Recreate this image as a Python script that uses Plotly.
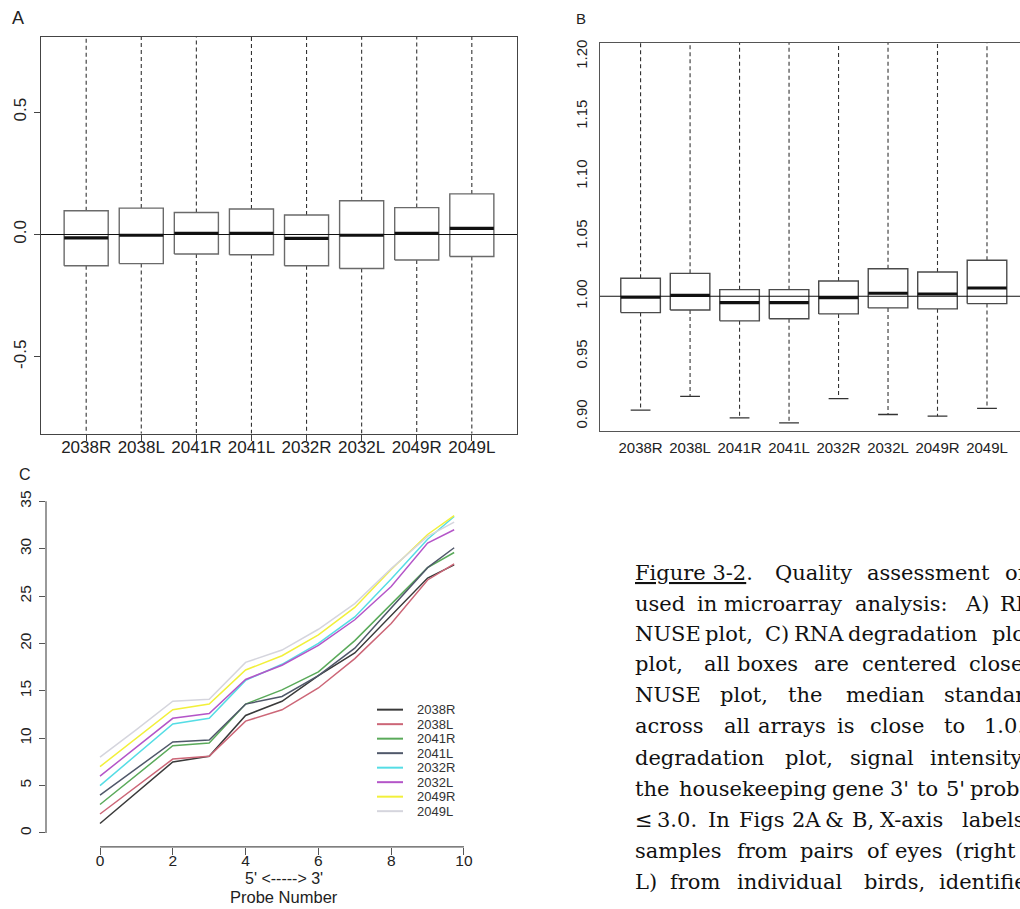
import plotly.graph_objects as go

W, H = 1020, 909

# ---------------- data ----------------
samples = ["2038R", "2038L", "2041R", "2041L", "2032R", "2032L", "2049R", "2049L"]

# Panel A : RLE boxplot statistics
rle_q1 = [-0.128, -0.119, -0.080, -0.083, -0.128, -0.139, -0.104, -0.090]
rle_med = [-0.014, -0.003, 0.005, 0.005, -0.016, -0.003, 0.005, 0.025]
rle_q3 = [0.097, 0.108, 0.090, 0.104, 0.080, 0.138, 0.110, 0.166]
rle_lo = [-1.20, -1.20, -1.20, -1.20, -1.20, -1.20, -1.20, -1.20]
rle_hi = [1.20, 1.20, 1.20, 1.20, 1.20, 1.20, 1.20, 1.20]

# Panel B : NUSE boxplot statistics
nuse_q1 = [0.9864, 0.9886, 0.9795, 0.9812, 0.9853, 0.9903, 0.9895, 0.9939]
nuse_med = [0.9992, 1.0008, 0.9947, 0.9947, 0.9989, 1.0025, 1.0019, 1.0069]
nuse_q3 = [1.0150, 1.0191, 1.0055, 1.0055, 1.0127, 1.0230, 1.0202, 1.0300]
nuse_lo = [0.9050, 0.9166, 0.8986, 0.8945, 0.9147, 0.9014, 0.9000, 0.9066]
nuse_hi = [1.30, 1.30, 1.30, 1.30, 1.30, 1.30, 1.30, 1.30]

# Panel C : RNA degradation (shifted and scaled mean intensity)
probe_x = [0, 1, 2, 3, 4, 5, 6, 7, 8, 9, 9.73]
deg = {
    "2038R": [1.0, 4.3, 7.5, 8.1, 12.4, 13.9, 16.6, 19.0, 23.0, 26.9, 28.3],
    "2038L": [2.0, 4.9, 7.8, 8.1, 11.8, 13.0, 15.3, 18.4, 22.1, 26.7, 28.4],
    "2041R": [3.0, 6.1, 9.2, 9.5, 13.6, 15.1, 17.0, 20.3, 24.2, 28.0, 29.6],
    "2041L": [4.0, 6.8, 9.6, 9.8, 13.6, 14.4, 16.6, 19.5, 23.8, 28.0, 30.1],
    "2032R": [5.0, 8.3, 11.5, 12.1, 16.1, 17.8, 20.0, 22.8, 26.8, 31.0, 33.4],
    "2032L": [6.0, 9.1, 12.1, 12.6, 16.2, 17.7, 19.8, 22.5, 26.0, 30.6, 32.0],
    "2049R": [7.0, 10.0, 13.0, 13.6, 17.2, 18.7, 20.9, 23.8, 27.8, 31.5, 33.5],
    "2049L": [8.0, 10.9, 13.9, 14.1, 18.0, 19.3, 21.5, 24.2, 27.9, 31.3, 32.8],
}
deg_colors = ["#3a3a3a", "#cc6677", "#5aaa5a", "#50586a",
              "#55dde5", "#b455c8", "#f2f03a", "#d5d5dd"]

rle_ticks = [-0.5, 0.0, 0.5]
rle_ticktext = ["-0.5", "0.0", "0.5"]
nuse_ticks = [0.90, 0.95, 1.00, 1.05, 1.10, 1.15, 1.20]
nuse_ticktext = ["0.90", "0.95", "1.00", "1.05", "1.10", "1.15", "1.20"]
deg_xticks = [0, 2, 4, 6, 8, 10]
deg_yticks = [0, 5, 10, 15, 20, 25, 30, 35]

caption = [
    (579, [(633.3, "<u>Figure 3-2</u>."), (772.7, "Quality"), (865.0, "assessment"), (1003.3, "of")]),
    (610, [(633.3, "used"), (695.0, "in"), (721.7, "microarray"), (853.3, "analysis:"),
           (963.3, "A)"), (998.3, "RLE")]),
    (640, [(633.3, "NUSE"), (702.5, "plot,"), (763.3, "C)"), (791.7, "RNA"),
           (846.0, "degradation"), (990.0, "plot")]),
    (671, [(633.3, "plot,"), (701.7, "all"), (735.0, "boxes"), (811.7, "are"),
           (860.0, "centered"), (966.7, "close")]),
    (702, [(633.3, "NUSE"), (718.3, "plot,"), (785.7, "the"), (844.0, "median"),
           (941.7, "standard")]),
    (733, [(633.3, "across"), (722.0, "all"), (756.0, "arrays"), (835.0, "is"),
           (868.3, "close"), (941.7, "to"), (981.7, "1.0.")]),
    (765, [(633.3, "degradation"), (783.3, "plot,"), (848.3, "signal"), (928.3, "intensity")]),
    (796, [(633.3, "the"), (677.0, "housekeeping"), (830.0, "gene"), (888.0, "3'"),
           (915.0, "to"), (944.0, "5'"), (968.0, "probe")]),
    (827, [(633.3, "≤"), (655.0, "3.0."), (706.0, "In"), (736.7, "Figs"), (790.0, "2A"),
           (823.3, "&amp;"), (850.0, "B,"), (878.3, "X-axis"), (960.0, "labels")]),
    (858, [(633.3, "samples"), (735.0, "from"), (798.3, "pairs"), (865.0, "of"),
           (893.3, "eyes"), (953.3, "(right")]),
    (889, [(633.3, "L)"), (668.3, "from"), (735.0, "individual"), (861.7, "birds,"),
           (936.7, "identified")]),
]

# ---------------- helpers ----------------
def px_x(p):
    return p / W


def px_y(p):
    return 1 - p / H


SANS = "Liberation Sans"
SERIF = "DejaVu Serif"


def box_traces(q1, med, q3, lo, hi, xa, ya, boxcol, cap):
    half = 0.4
    rx, ry, mx, my, wx, wy, cx, cy = [], [], [], [], [], [], [], []
    for i in range(len(q1)):
        c = i + 1
        rx += [c - half, c + half, c + half, c - half, c - half, None]
        ry += [q1[i], q1[i], q3[i], q3[i], q1[i], None]
        mx += [c - half, c + half, None]
        my += [med[i], med[i], None]
        wx += [c, c, None, c, c, None]
        wy += [q3[i], hi[i], None, q1[i], lo[i], None]
        cx += [c - 0.2, c + 0.2, None, c - 0.2, c + 0.2, None]
        cy += [lo[i], lo[i], None, hi[i], hi[i], None]
    tr = []
    tr.append(go.Scatter(x=wx, y=wy, mode="lines", xaxis=xa, yaxis=ya, hoverinfo="skip",
                         line=dict(color="#333333", width=1.1, dash="4px,3px")))
    if cap:
        tr.append(go.Scatter(x=cx, y=cy, mode="lines", xaxis=xa, yaxis=ya, hoverinfo="skip",
                             line=dict(color="#333333", width=1.3)))
    tr.append(go.Scatter(x=rx, y=ry, mode="lines", fill="toself", fillcolor="white",
                         xaxis=xa, yaxis=ya, hoverinfo="skip",
                         line=dict(color=boxcol, width=1.4)))
    tr.append(go.Scatter(x=mx, y=my, mode="lines", xaxis=xa, yaxis=ya, hoverinfo="skip",
                         line=dict(color="#111111", width=3.2)))
    return tr


fig = go.Figure()
for t in box_traces(rle_q1, rle_med, rle_q3, rle_lo, rle_hi, "x", "y", "#6a6a6a", False):
    fig.add_trace(t)
for t in box_traces(nuse_q1, nuse_med, nuse_q3, nuse_lo, nuse_hi, "x2", "y2", "#4a4a4a", True):
    fig.add_trace(t)

for name, col in zip(samples, deg_colors):
    fig.add_trace(go.Scatter(x=probe_x, y=deg[name], mode="lines", name=name,
                             xaxis="x3", yaxis="y3", line=dict(color=col, width=1.5)))

# horizontal reference lines (A: 0, B: 1)
fig.add_shape(type="line", xref="x domain", yref="y", x0=0, x1=1, y0=0, y1=0,
              line=dict(color="#111111", width=1.1), layer="above")
fig.add_shape(type="line", xref="x2 domain", yref="y2", x0=0, x1=1, y0=1, y1=1,
              line=dict(color="#111111", width=1.1), layer="above")
# R-style detached axes for C
fig.add_shape(type="line", xref="x3", yref="y3 domain", x0=0, x1=10, y0=0, y1=0,
              line=dict(color="#555555", width=1.2))
fig.add_shape(type="line", xref="x3 domain", yref="y3", x0=0, x1=0, y0=0, y1=35,
              line=dict(color="#555555", width=1.2))

tickfont_A = dict(family=SANS, size=17, color="#222222")
tickfont_B = dict(family=SANS, size=15, color="#222222")
tickfont_C = dict(family=SANS, size=15.5, color="#222222")

ann = []
# panel letters
ann.append(dict(x=px_x(18), y=px_y(15), text="A", font=dict(family=SANS, size=18, color="#222")))
ann.append(dict(x=px_x(581), y=px_y(15.5), text="B", font=dict(family=SANS, size=15, color="#222")))
ann.append(dict(x=px_x(25), y=px_y(473), text="C", font=dict(family=SANS, size=16, color="#222")))
# C axis title
ann.append(dict(x=px_x(284), y=px_y(878), text="5' &lt;-----&gt; 3'",
                font=dict(family=SANS, size=16, color="#222")))
ann.append(dict(x=px_x(284), y=px_y(897), text="Probe Number",
                font=dict(family=SANS, size=16.5, color="#222")))
for a in ann:
    a.update(xref="paper", yref="paper", showarrow=False, xanchor="center", yanchor="middle")

# manual legend for C
leg_y0, leg_dy = 709, 14.55
for i, (name, col) in enumerate(zip(samples, deg_colors)):
    yy = leg_y0 + i * leg_dy
    fig.add_shape(type="line", xref="paper", yref="paper", x0=px_x(377), x1=px_x(403),
                  y0=px_y(yy), y1=px_y(yy), line=dict(color=col, width=2))
    ann.append(dict(x=px_x(415), y=px_y(yy), xref="paper", yref="paper", text=name,
                    showarrow=False, xanchor="left", yanchor="middle",
                    font=dict(family=SANS, size=13, color="#333")))

# caption text (justified paragraph, words placed individually)
FS = 21
for base, words in caption:
    for xw, w in words:
        ann.append(dict(x=px_x(xw), y=px_y(base - 0.35 * FS), xref="paper", yref="paper",
                        text=w, showarrow=False, xanchor="left", yanchor="middle",
                        font=dict(family=SERIF, size=FS, color="#111111")))

fig.update_layout(
    width=W, height=H, margin=dict(l=0, r=0, t=0, b=0),
    paper_bgcolor="white", plot_bgcolor="white", showlegend=False,
    annotations=ann,
    xaxis=dict(domain=[px_x(41), px_x(517)], anchor="y", range=[0.18, 8.82],
               tickvals=list(range(1, 9)),
               ticktext=samples, ticks="outside", ticklen=6, tickcolor="#444",
               showline=True, mirror=True, linecolor="#444444", linewidth=1,
               showgrid=False, zeroline=False, tickfont=tickfont_A, ticklabelstandoff=-8),
    yaxis=dict(domain=[px_y(432), px_y(34)], anchor="x", range=[-0.814, 0.808],
               tickvals=rle_ticks,
               ticktext=rle_ticktext, tickangle=-90, ticks="outside", ticklen=6, tickcolor="#444",
               showline=True, mirror=True, linecolor="#444444", linewidth=1,
               showgrid=False, zeroline=False, tickfont=tickfont_A, ticklabelstandoff=1),
    xaxis2=dict(domain=[px_x(600), 1.0], anchor="y2", range=[0.18, 8.667],
                tickvals=list(range(1, 9)),
                ticktext=samples, ticks="", showline=True, mirror=True,
                linecolor="#555555", linewidth=1, showgrid=False, zeroline=False,
                tickfont=tickfont_B, ticklabelstandoff=3),
    yaxis2=dict(domain=[px_y(429), px_y(40)], anchor="x2", range=[0.888, 1.2113],
                tickvals=nuse_ticks,
                ticktext=nuse_ticktext, tickangle=-90, ticks="", showline=True, mirror=False,
                linecolor="#555555", linewidth=1, showgrid=False, zeroline=False,
                tickfont=tickfont_B, ticklabelstandoff=6),
    xaxis3=dict(domain=[px_x(46), px_x(480)], anchor="y3", range=[-1.4835, 10.44],
                tickvals=deg_xticks,
                ticks="outside", ticklen=7, tickcolor="#555", showline=False, showgrid=False,
                zeroline=False, tickfont=tickfont_C, ticklabelstandoff=-8),
    yaxis3=dict(domain=[px_y(846.7), px_y(490)], anchor="x3", range=[-1.473, 36.05],
                tickvals=deg_yticks,
                tickangle=-90, ticks="outside", ticklen=6, tickcolor="#555", showline=False,
                showgrid=False, zeroline=False, tickfont=tickfont_C, ticklabelstandoff=2),
)

fig.write_html("out.html")
